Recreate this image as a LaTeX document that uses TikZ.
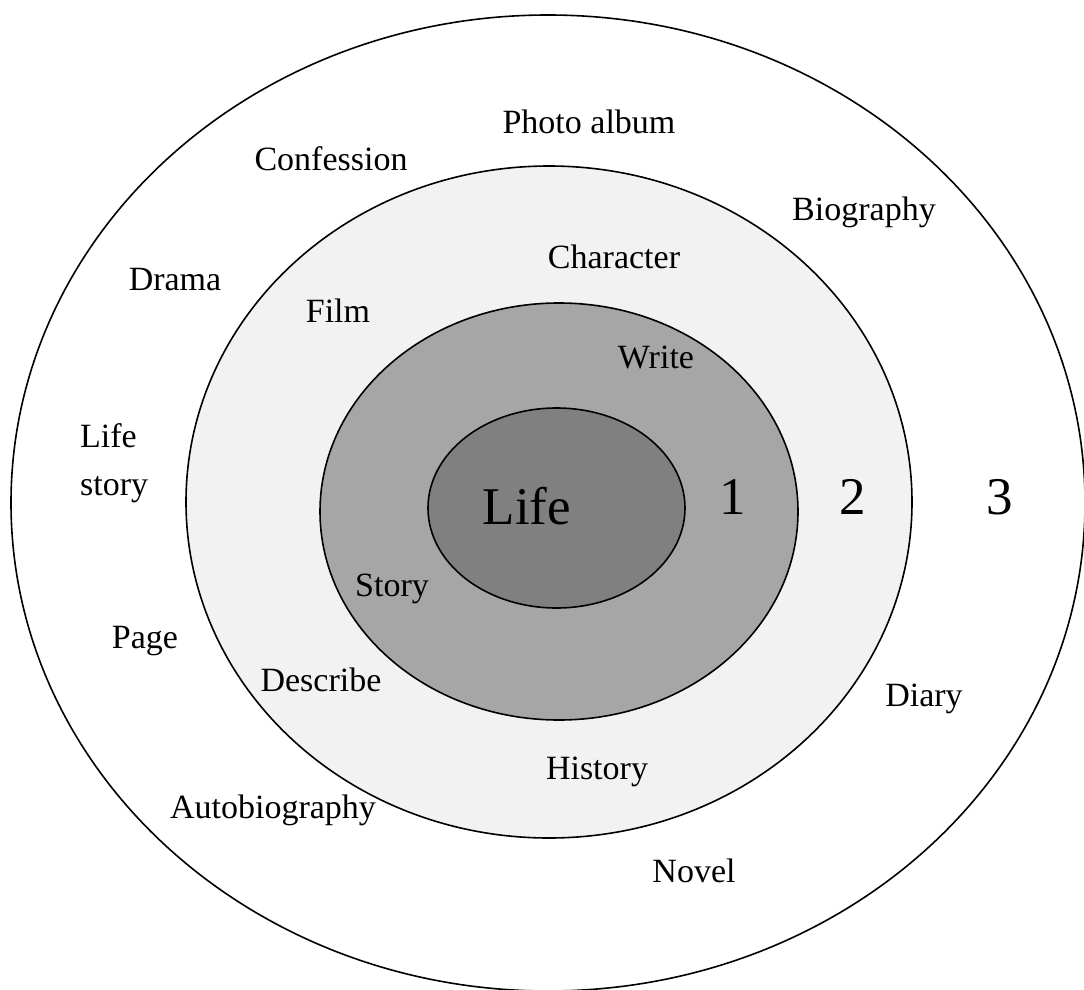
\documentclass[tikz,border=0pt]{standalone}
\usepackage{fontspec}
\setmainfont{Liberation Serif}
\tikzset{
  ring/.style={draw=black, line width=1.6pt},
  word/.style={inner sep=0pt, font=\fontsize{34}{48}\selectfont},
  bigword/.style={inner sep=0pt, font=\fontsize{53}{60}\selectfont}
}
\begin{document}
\begin{tikzpicture}[x=1pt, y=-1pt]
  \useasboundingbox (0,0) rectangle (1084,990);
  % nested rings, outermost first
  \draw[ring, fill=white] (548,503) ellipse [x radius=537pt, y radius=488pt];
  \draw[ring, fill={rgb,255:red,242;green,242;blue,242}] (549,502) ellipse [x radius=363pt, y radius=336pt];
  \draw[ring, fill={rgb,255:red,166;green,166;blue,166}] (559,511.5) ellipse [x radius=239pt, y radius=208.5pt];
  \draw[ring, fill={rgb,255:red,128;green,128;blue,128}] (556.5,508) ellipse [x radius=128.5pt, y radius=100pt];

  % centre
  \node[bigword] (life) at (527,506) {Life};

  % ring numbers
  \node[bigword] (n1) at (733,497) {1};
  \node[bigword] (n2) at (853,497) {2};
  \node[bigword] (n3) at (1000,497) {3};

  % ring 1
  \node[word] (write) at (656,357) {Write};
  \node[word] (story) at (392,589) {Story};

  % ring 2
  \node[word] (character) at (614,257) {Character};
  \node[word] (film) at (338,311) {Film};
  \node[word] (describe) at (321,680) {Describe};
  \node[word] (history) at (597,772) {History};

  % ring 3
  \node[word] (photo) at (589,122) {Photo album};
  \node[word] (confession) at (331,159) {Confession};
  \node[word] (biography) at (864,212) {Biography};
  \node[word] (drama) at (175,280) {Drama};
  \node[word, align=left, anchor=west] (lifestory) at (80,463) {Life\\story};
  \node[word] (page) at (145,641) {Page};
  \node[word] (diary) at (924,699) {Diary};
  \node[word] (autobiography) at (273,810) {Autobiography};
  \node[word] (novel) at (694,871) {Novel};
\end{tikzpicture}
\end{document}
